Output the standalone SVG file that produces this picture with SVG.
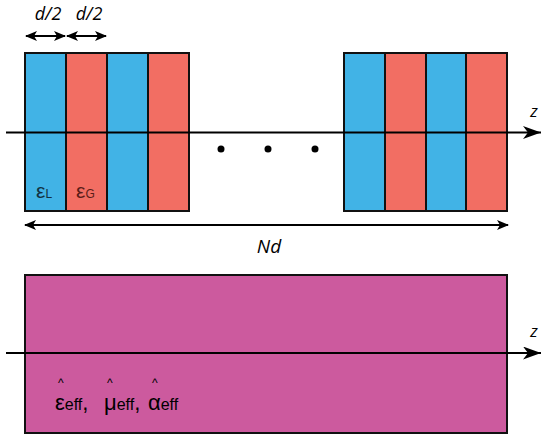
<svg xmlns="http://www.w3.org/2000/svg" width="542" height="439" viewBox="0 0 542 439">
<style>
.b{fill:#41B3E6;stroke:#111;stroke-width:2}
.r{fill:#F26E63;stroke:#111;stroke-width:2}
.m{fill:#CC5A9E;stroke:#111;stroke-width:2}
.ln{stroke:#000;stroke-width:2;fill:none}
.t{font-family:"Open Sans","Noto Sans",sans-serif;font-style:italic;fill:#000}
.s{font-family:"Liberation Sans","DejaVu Sans",sans-serif;fill:#000}
</style>
<defs>
<marker id="ah" viewBox="0 0 12 10" refX="11" refY="5" markerWidth="12" markerHeight="10" markerUnits="userSpaceOnUse" orient="auto-start-reverse">
<path d="M0,0 L12,5 L0,10 L3,5 Z" fill="#000"/>
</marker>
<marker id="az" viewBox="0 0 18 13" refX="18" refY="6.5" markerWidth="18" markerHeight="13" markerUnits="userSpaceOnUse" orient="auto">
<path d="M0,0 L18,6.5 L0,13 L5,6.5 Z" fill="#000"/>
</marker>
</defs>
<g id="stack-left">
<rect class="b" x="25" y="53" width="41" height="158"/>
<rect class="r" x="66" y="53" width="41" height="158"/>
<rect class="b" x="107" y="53" width="41" height="158"/>
<rect class="r" x="148" y="53" width="41" height="158"/>
<text class="s" x="36" y="198" font-size="21" style="fill:#123040">ε<tspan font-size="12">L</tspan></text>
<text class="s" x="76" y="198" font-size="21" style="fill:#5a1c18">ε<tspan font-size="12">G</tspan></text>
</g>
<g id="stack-right">
<rect class="b" x="344" y="53" width="41" height="158"/>
<rect class="r" x="385" y="53" width="41" height="158"/>
<rect class="b" x="426" y="53" width="40" height="158"/>
<rect class="r" x="466" y="53" width="41" height="158"/>
</g>
<g id="dots">
<circle cx="221" cy="149" r="3.5" fill="#000"/>
<circle cx="268" cy="149" r="3.5" fill="#000"/>
<circle cx="315" cy="149" r="3.5" fill="#000"/>
</g>
<g id="effective">
<rect class="m" x="25" y="275" width="482" height="158"/>
<text class="s" font-size="22"><tspan x="55" y="410">ε</tspan><tspan font-size="16">eff</tspan><tspan>, </tspan><tspan x="104" y="410">μ</tspan><tspan font-size="16">eff</tspan><tspan>,</tspan><tspan x="148" y="410">α</tspan><tspan font-size="16">eff</tspan><tspan x="58" y="387" font-size="12">^</tspan><tspan x="107" y="387" font-size="12">^</tspan><tspan x="152" y="387" font-size="12">^</tspan></text>
</g>
<g id="connectors">
<line class="ln" x1="6" y1="132.5" x2="541" y2="132.5" marker-end="url(#az)"/>
<line class="ln" x1="6" y1="353" x2="541" y2="353" marker-end="url(#az)"/>
<line class="ln" x1="26" y1="36" x2="65" y2="36" marker-start="url(#ah)" marker-end="url(#ah)"/>
<line class="ln" x1="67" y1="36" x2="106" y2="36" marker-start="url(#ah)" marker-end="url(#ah)"/>
<line class="ln" x1="25" y1="225" x2="508" y2="225" marker-start="url(#ah)" marker-end="url(#ah)"/>
</g>
<g id="labels">
<text class="t" x="48" y="20" font-size="18" text-anchor="middle">d/2</text>
<text class="t" x="89" y="20" font-size="18" text-anchor="middle">d/2</text>
<text class="t" x="269" y="253" font-size="19" text-anchor="middle">Nd</text>
<text class="t" x="534" y="117" font-size="17" text-anchor="middle">z</text>
<text class="t" x="534" y="337" font-size="17" text-anchor="middle">z</text>
</g>
</svg>
